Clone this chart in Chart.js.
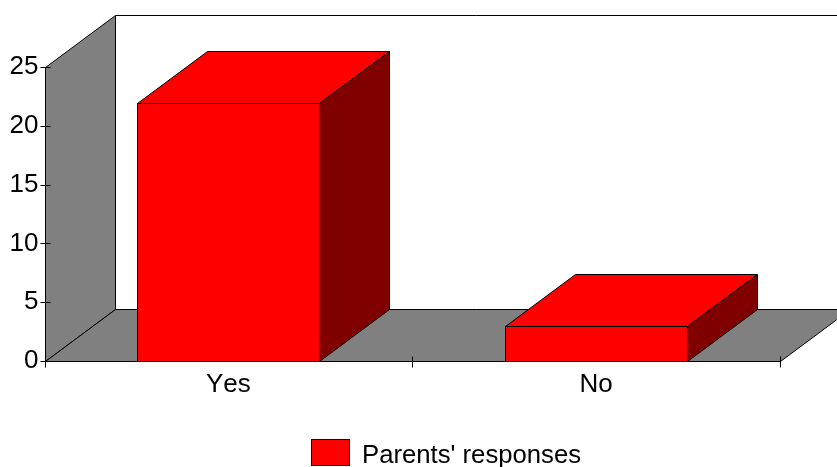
<!DOCTYPE html>
<html>
<head>
<meta charset="utf-8">
<title>Parents' responses</title>
<script src="https://cdn.jsdelivr.net/npm/chart.js@4"></script>
<style>
    html, body { margin: 0; padding: 0; background: #fff; }
    canvas { display: block; }
</style>
</head>
<body>
<canvas id="parentsChart" width="837" height="467"></canvas>
<script>
const categories = ['Yes', 'No'];
const responses = [21.9, 3];
const seriesName = "Parents' responses";

const depthX = 70;
const depthY = 52;

function polygon(ctx, points, fill) {
    ctx.beginPath();
    points.forEach((p, i) => i ? ctx.lineTo(p[0], p[1]) : ctx.moveTo(p[0], p[1]));
    ctx.closePath();
    ctx.fillStyle = fill;
    ctx.fill();
    ctx.stroke();
}

function line(ctx, x1, y1, x2, y2) {
    ctx.beginPath();
    ctx.moveTo(x1, y1);
    ctx.lineTo(x2, y2);
    ctx.stroke();
}

// bar corners snapped to whole pixels so the 1px outline stays sharp
function barEdges(bar) {
    return {
        l: Math.round(bar.x - bar.width / 2) + 0.5,
        r: Math.round(bar.x + bar.width / 2) + 0.5,
        t: Math.round(bar.y) + 0.5,
        b: Math.round(bar.base) + 0.5
    };
}

// Chart.js has no 3d bars, so walls, floor and the bar sides are drawn here
const box3d = {
    id: 'box3d',
    beforeDraw(chart) {
        chart.ctx.fontKerning = 'none';
    },
    beforeDatasetsDraw(chart) {
        const ctx = chart.ctx;
        const area = chart.chartArea;
        const x = chart.scales.x;
        const y = chart.scales.y;
        const left = Math.round(area.left) + 0.5;
        const right = Math.round(area.right) + 0.5;
        const top = Math.round(area.top) + 0.5;
        const bottom = Math.round(area.bottom) + 0.5;

        ctx.save();
        ctx.strokeStyle = '#000';
        ctx.lineWidth = 1;

        // side wall and floor
        polygon(ctx, [[left, bottom], [left, top], [left + depthX, top - depthY], [left + depthX, bottom - depthY]], '#808080');
        polygon(ctx, [[left, bottom], [right, bottom], [right + depthX, bottom - depthY], [left + depthX, bottom - depthY]], '#808080');
        line(ctx, left + depthX, top - depthY, chart.width, top - depthY);

        // axis ticks
        y.ticks.forEach(t => {
            const py = Math.round(y.getPixelForValue(t.value)) + 0.5;
            line(ctx, left - 5, py, left + 5, py);
        });
        for (let i = 0; i <= categories.length; i++) {
            const px = Math.round(x.left + i * x.width / categories.length) + 0.5;
            line(ctx, px, bottom - 5, px, bottom + 6);
        }

        // top and side of each bar
        chart.getDatasetMeta(0).data.forEach(bar => {
            const { l, r, t, b } = barEdges(bar);
            polygon(ctx, [[l, t], [r, t], [r + depthX, t - depthY], [l + depthX, t - depthY]], '#ff0000');
            polygon(ctx, [[r, t], [r + depthX, t - depthY], [r + depthX, b - depthY], [r, b]], '#800000');
        });
        ctx.restore();
    },
    afterDatasetsDraw(chart) {
        const ctx = chart.ctx;
        ctx.save();
        ctx.strokeStyle = '#000';
        ctx.lineWidth = 1;
        chart.getDatasetMeta(0).data.forEach(bar => {
            const { l, r, t, b } = barEdges(bar);
            ctx.strokeRect(l, t, r - l, b - t);
        });
        ctx.restore();
    },
    // the built-in legend can't put the text lower than its box, so draw it here
    afterDraw(chart) {
        const ctx = chart.ctx;
        const dataset = chart.data.datasets[0];
        ctx.save();
        ctx.fillStyle = dataset.backgroundColor;
        ctx.strokeStyle = '#000';
        ctx.lineWidth = 1;
        ctx.fillRect(311.5, 439.5, 38, 26);
        ctx.strokeRect(311.5, 439.5, 38, 26);
        ctx.fillStyle = '#000';
        ctx.font = '25.7px "Liberation Sans", Arial, sans-serif';
        ctx.textBaseline = 'alphabetic';
        ctx.fillText(dataset.label, 362, 463);
        ctx.restore();
    }
};

Chart.defaults.font.family = '"Liberation Sans", Arial, sans-serif';
Chart.defaults.font.size = 26;
Chart.defaults.color = '#000';

new Chart(document.getElementById('parentsChart').getContext('2d'), {
    type: 'bar',
    data: {
        labels: categories,
        datasets: [{
            label: seriesName,
            data: responses,
            backgroundColor: '#ff0000',
            borderWidth: 0,
            barPercentage: 0.495,
            categoryPercentage: 1
        }]
    },
    plugins: [box3d],
    options: {
        responsive: false,
        animation: false,
        layout: {
            autoPadding: false,
            padding: { left: 0, right: 57, top: 67, bottom: 0 }
        },
        scales: {
            x: {
                grid: { display: false },
                border: { display: false },
                ticks: { padding: 0, maxRotation: 0 },
                afterFit(scale) { scale.height = 106; }
            },
            y: {
                min: 0,
                max: 25,
                grid: { display: false },
                border: { display: false },
                ticks: { stepSize: 5, padding: -2 },
                afterFit(scale) { scale.width = 44.5; }
            }
        },
        plugins: {
            tooltip: { enabled: false },
            legend: { display: false }
        }
    }
});
</script>
</body>
</html>
